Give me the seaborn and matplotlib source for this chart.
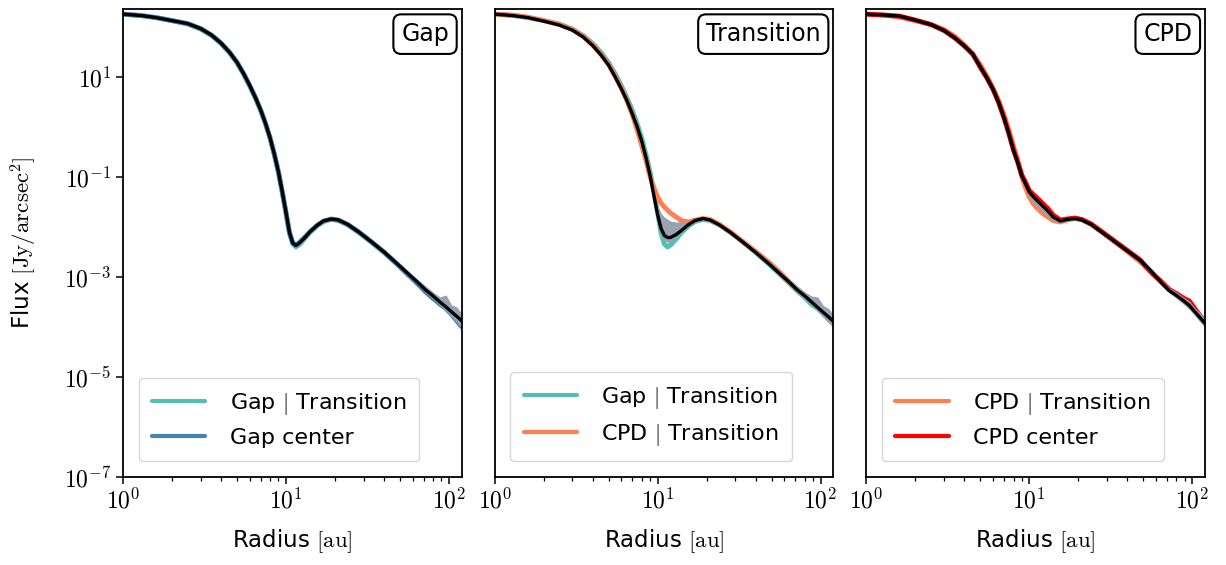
import numpy as np
import matplotlib
matplotlib.use("Agg")
import matplotlib.pyplot as plt
import seaborn as sns

# ---------------- data (log10 of flux in Jy/arcsec^2) -------------
radius = [1.0, 1.3, 1.6, 2.0, 2.5, 3.0, 3.5, 4.0, 4.5, 5.0, 5.5, 6.0, 6.5, 7.0, 7.5,
          8.0, 8.5, 9.0, 9.5, 10.0, 10.5, 11.0, 11.5, 12.0, 13.0, 14.0, 15.5, 17.0,
          19.0, 21.0, 24.0, 28.0, 33.0, 40.0, 48.0, 56.0, 64.0, 72.0, 80.0, 88.0,
          96.0, 104.0, 112.0, 120.0]

gap_model = [2.26, 2.23, 2.19, 2.13, 2.07, 1.97, 1.84, 1.68, 1.50, 1.30, 1.07, 0.83, 0.59, 0.34, 0.07,
             -0.22, -0.55, -0.90, -1.30, -1.70, -2.10, -2.32, -2.37, -2.33, -2.22, -2.10, -1.97, -1.88,
             -1.84, -1.86, -1.95, -2.10, -2.28, -2.50, -2.73, -2.93, -3.10, -3.26, -3.38, -3.50,
             -3.60, -3.70, -3.79, -3.88]
gap_lo = [2.24, 2.21, 2.17, 2.11, 2.05, 1.95, 1.82, 1.66, 1.48, 1.28, 1.05, 0.81, 0.57, 0.31, 0.04,
          -0.25, -0.58, -0.93, -1.33, -1.73, -2.13, -2.35, -2.40, -2.36, -2.25, -2.13, -2.00, -1.91,
          -1.87, -1.89, -1.98, -2.13, -2.31, -2.53, -2.77, -2.97, -3.14, -3.31, -3.44, -3.57,
          -3.68, -3.80, -3.92, -4.02]
gap_hi = [2.28, 2.25, 2.21, 2.15, 2.09, 1.99, 1.86, 1.70, 1.52, 1.32, 1.09, 0.85, 0.61, 0.37, 0.10,
          -0.19, -0.52, -0.87, -1.27, -1.67, -2.07, -2.29, -2.34, -2.30, -2.19, -2.07, -1.94, -1.85,
          -1.81, -1.83, -1.92, -2.07, -2.25, -2.46, -2.68, -2.87, -3.04, -3.18, -3.30, -3.40,
          -3.36, -3.56, -3.60, -3.74]

trans_model = [2.26, 2.23, 2.19, 2.12, 2.04, 1.94, 1.80, 1.63, 1.44, 1.24, 1.00, 0.76, 0.52, 0.26, 0.00,
               -0.29, -0.62, -0.98, -1.38, -1.75, -2.03, -2.17, -2.21, -2.21, -2.15, -2.07, -1.95, -1.87,
               -1.83, -1.86, -1.96, -2.11, -2.29, -2.51, -2.73, -2.93, -3.10, -3.26, -3.38, -3.50,
               -3.61, -3.71, -3.80, -3.89]
trans_lo = [2.24, 2.21, 2.17, 2.10, 2.02, 1.92, 1.78, 1.61, 1.42, 1.22, 0.98, 0.73, 0.49, 0.23, -0.03,
            -0.32, -0.65, -1.01, -1.41, -1.79, -2.10, -2.26, -2.31, -2.29, -2.20, -2.11, -1.98, -1.90,
            -1.86, -1.89, -1.99, -2.14, -2.32, -2.54, -2.77, -2.97, -3.15, -3.31, -3.44, -3.56,
            -3.68, -3.80, -3.92, -4.02]
trans_hi = [2.28, 2.25, 2.21, 2.14, 2.06, 1.96, 1.82, 1.65, 1.46, 1.26, 1.02, 0.79, 0.55, 0.29, 0.03,
            -0.26, -0.59, -0.94, -1.32, -1.58, -1.72, -1.80, -1.84, -1.88, -1.90, -1.89, -1.91, -1.85,
            -1.80, -1.83, -1.93, -2.08, -2.26, -2.47, -2.68, -2.87, -3.04, -3.18, -3.30, -3.38,
            -3.40, -3.57, -3.63, -3.76]

cpd_model = [2.26, 2.24, 2.22, 2.14, 2.05, 1.93, 1.78, 1.62, 1.46, 1.20, 0.98, 0.75, 0.48, 0.18, -0.14,
             -0.47, -0.72, -0.98, -1.14, -1.30, -1.38, -1.45, -1.51, -1.57, -1.68, -1.80, -1.88, -1.85,
             -1.83, -1.86, -1.95, -2.11, -2.28, -2.48, -2.67, -2.88, -3.10, -3.27, -3.37, -3.47,
             -3.57, -3.70, -3.82, -3.93]
cpd_lo = [2.24, 2.22, 2.20, 2.12, 2.03, 1.91, 1.76, 1.60, 1.44, 1.17, 0.95, 0.72, 0.45, 0.15, -0.17,
          -0.50, -0.76, -1.03, -1.21, -1.40, -1.50, -1.57, -1.63, -1.69, -1.78, -1.87, -1.91, -1.88,
          -1.86, -1.89, -1.98, -2.14, -2.31, -2.51, -2.71, -2.92, -3.15, -3.32, -3.43, -3.54,
          -3.65, -3.78, -3.91, -4.02]
cpd_hi = [2.28, 2.26, 2.24, 2.16, 2.07, 1.95, 1.80, 1.64, 1.48, 1.23, 1.01, 0.78, 0.51, 0.21, -0.11,
          -0.44, -0.69, -0.95, -1.10, -1.27, -1.34, -1.41, -1.47, -1.53, -1.64, -1.77, -1.85, -1.82,
          -1.80, -1.83, -1.92, -2.08, -2.25, -2.45, -2.64, -2.84, -3.05, -3.21, -3.30, -3.40,
          -3.48, -3.62, -3.72, -3.84]

gap_transition = [2.26, 2.23, 2.19, 2.13, 2.06, 1.96, 1.83, 1.67, 1.49, 1.29, 1.06, 0.82, 0.58, 0.33, 0.06,
                  -0.23, -0.56, -0.91, -1.31, -1.72, -2.12, -2.34, -2.40, -2.36, -2.24, -2.11, -1.98, -1.89,
                  -1.85, -1.87, -1.96, -2.11, -2.29, -2.51, -2.74, -2.94, -3.12, -3.28, -3.41, -3.55,
                  -3.63, -3.74, -3.85, -3.92]
gap_center = [2.26, 2.23, 2.19, 2.13, 2.07, 1.97, 1.84, 1.68, 1.50, 1.30, 1.07, 0.83, 0.59, 0.34, 0.07,
              -0.22, -0.55, -0.90, -1.30, -1.70, -2.10, -2.31, -2.36, -2.32, -2.21, -2.10, -1.97, -1.88,
              -1.84, -1.86, -1.95, -2.10, -2.28, -2.50, -2.74, -2.95, -3.13, -3.30, -3.43, -3.53,
              -3.63, -3.75, -3.88, -4.00]
cpd_transition = [2.26, 2.24, 2.20, 2.13, 2.05, 1.95, 1.81, 1.64, 1.45, 1.25, 1.01, 0.77, 0.52, 0.24, -0.06,
                  -0.38, -0.68, -1.00, -1.22, -1.40, -1.52, -1.60, -1.66, -1.72, -1.80, -1.87, -1.90, -1.86,
                  -1.83, -1.85, -1.95, -2.10, -2.28, -2.49, -2.70, -2.90, -3.09, -3.25, -3.36, -3.46,
                  -3.55, -3.68, -3.80, -3.90]
cpd_center = [2.26, 2.24, 2.22, 2.14, 2.05, 1.93, 1.78, 1.62, 1.46, 1.20, 0.98, 0.75, 0.48, 0.18, -0.14,
              -0.46, -0.70, -0.96, -1.11, -1.27, -1.34, -1.40, -1.46, -1.52, -1.63, -1.76, -1.86, -1.84,
              -1.82, -1.85, -1.94, -2.10, -2.27, -2.47, -2.66, -2.91, -3.08, -3.25, -3.33, -3.42,
              -3.48, -3.64, -3.78, -3.90]

panel_titles = ["Gap", "Transition", "CPD"]
ytick_exponents = [-7, -5, -3, -1, 1]
xtick_exponents = [0, 1, 2]

C_TEAL = "#55bdb1"
C_BLUE = "#4682b4"
C_CORAL = "#ff7f50"
C_RED = "#ff0000"
C_GRAY = "#98a2b2"

# ---------------- figure ----------------
sns.set_style("ticks")
plt.rcParams.update({
    "font.family": ["DejaVu Sans"],
    "mathtext.fontset": "cm",
    "text.color": "black",
    "axes.labelcolor": "black",
    "axes.linewidth": 1.3,
    "xtick.major.width": 1.1, "ytick.major.width": 1.1,
    "xtick.minor.width": 0.9,
    "xtick.major.size": 5, "ytick.major.size": 5, "xtick.minor.size": 3,
    "xtick.color": "black", "ytick.color": "black",
    "axes.edgecolor": "black",
})

fig, axes = plt.subplots(1, 3, figsize=(12.26, 5.65), dpi=100, sharey=True)
fig.subplots_adjust(left=0.1003, right=0.983, top=0.984, bottom=0.156, wspace=0.097)

r = np.array(radius)
to_flux = lambda a: 10.0 ** np.array(a)

panels = [
    dict(model=gap_model, lo=gap_lo, hi=gap_hi,
         series=[(gap_transition, C_TEAL, r"Gap $|$ Transition"), (gap_center, C_BLUE, "Gap center")]),
    dict(model=trans_model, lo=trans_lo, hi=trans_hi,
         series=[(gap_transition, C_TEAL, r"Gap $|$ Transition"), (cpd_transition, C_CORAL, r"CPD $|$ Transition")]),
    dict(model=cpd_model, lo=cpd_lo, hi=cpd_hi,
         series=[(cpd_transition, C_CORAL, r"CPD $|$ Transition"), (cpd_center, C_RED, "CPD center")]),
]

for ax, p, title in zip(axes, panels, panel_titles):
    ax.set_xscale("log")
    ax.set_yscale("log")
    for vals, col, lab in p["series"]:
        sns.lineplot(x=r, y=to_flux(vals), ax=ax, color=col, lw=3.5, label=lab,
                     estimator=None, sort=False)
    ax.fill_between(r, to_flux(p["lo"]), to_flux(p["hi"]), color=C_GRAY, lw=0, zorder=2.5)
    sns.lineplot(x=r, y=to_flux(p["model"]), ax=ax, color="black", lw=2.4,
                 estimator=None, sort=False, zorder=4)

    ax.set_xlim(1.0, 120.0)
    ax.set_ylim(1e-7, 230.0)
    ax.set_xticks([10.0 ** e for e in xtick_exponents],
                  labels=[r"$10^{%d}$" % e for e in xtick_exponents])
    ax.xaxis.set_minor_locator(matplotlib.ticker.LogLocator(base=10, subs=np.arange(2, 10)))
    ax.xaxis.set_minor_formatter(matplotlib.ticker.NullFormatter())
    ax.set_yticks([10.0 ** e for e in ytick_exponents],
                  labels=[r"$10^{%d}$" % e for e in ytick_exponents])
    ax.yaxis.set_minor_locator(matplotlib.ticker.NullLocator())
    ax.tick_params(axis="both", which="major", labelsize=17)
    ax.set_xlabel(r"Radius $[\mathrm{au}]$", fontsize=16.5, labelpad=10)
    ax.set_ylabel("")

    handles, labels = ax.get_legend_handles_labels()
    leg = ax.legend(handles, labels, loc="lower left", fontsize=16, handlelength=2.4,
                    borderaxespad=0.7, labelspacing=0.5, handletextpad=1.1,
                    framealpha=0.8, fancybox=True, borderpad=0.6)
    for h in leg.get_lines():
        h.set_linewidth(3.0)

    ax.text(0.962, 0.972, title, transform=ax.transAxes, ha="right", va="top", fontsize=17,
            bbox=dict(boxstyle="round,pad=0.33", fc="white", ec="black", lw=1.5), zorder=6)

for ax in axes[1:]:
    ax.tick_params(axis="y", which="both", left=False, labelleft=False)

axes[0].set_ylabel(r"Flux $[\mathrm{Jy/arcsec^2}]$", fontsize=16.5, labelpad=18)

fig.savefig("out.png", dpi=100)
